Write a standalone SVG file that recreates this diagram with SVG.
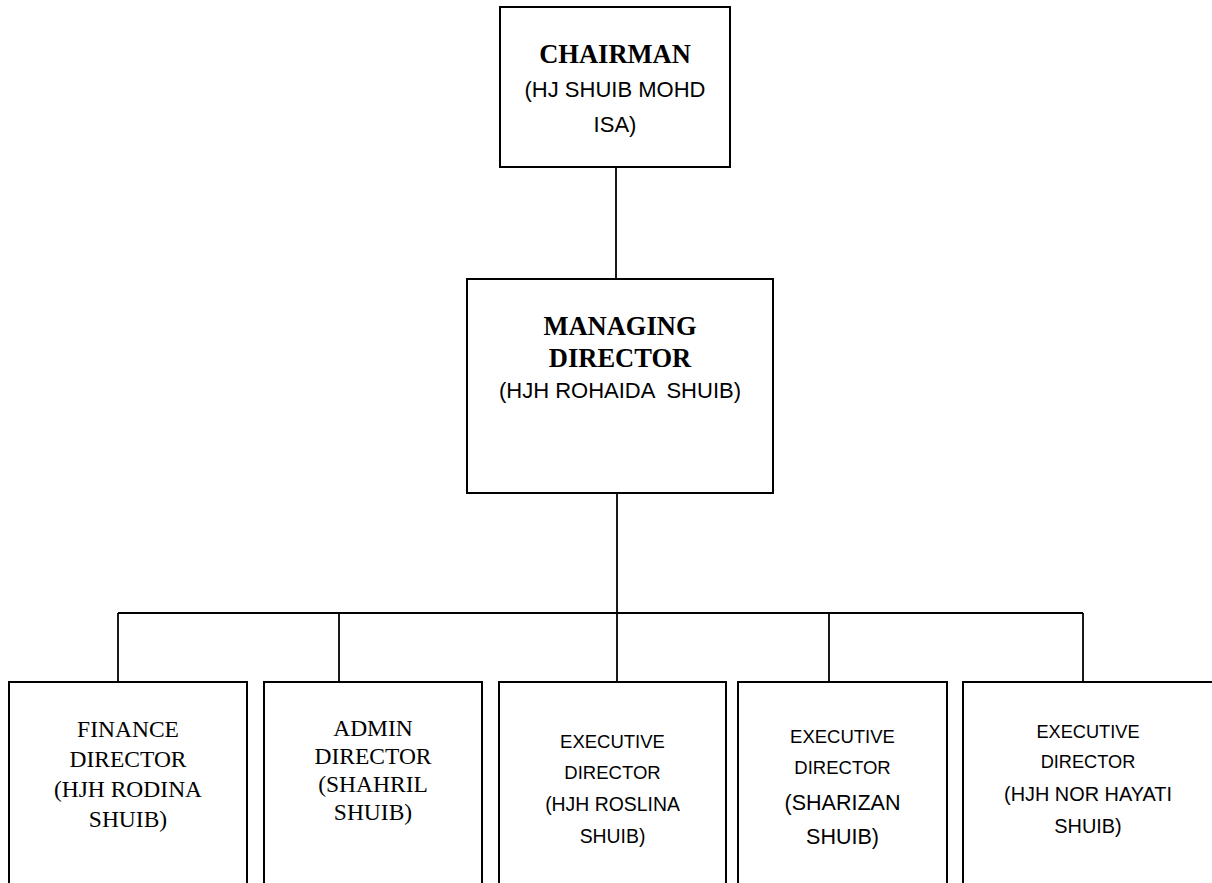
<svg xmlns="http://www.w3.org/2000/svg" width="1212" height="883" viewBox="0 0 1212 883">
  <style>
    .box { fill: #ffffff; stroke: #000000; stroke-width: 2; }
    .link { fill: none; stroke: #000000; stroke-width: 1.8; }
    .title { font-family: "Liberation Serif", "Times New Roman", serif; font-weight: bold; font-size: 26.5px; fill: #000; text-anchor: middle; }
    .sans { font-family: "Liberation Sans", Arial, sans-serif; font-size: 22px; fill: #000; text-anchor: middle; white-space: pre; }
    .roman { font-family: "Liberation Serif", "Times New Roman", serif; font-size: 23.5px; fill: #000; text-anchor: middle; }
    .small { font-family: "Liberation Sans", Arial, sans-serif; font-size: 18.5px; fill: #000; text-anchor: middle; }
  </style>
  <rect width="1212" height="883" fill="#ffffff"/>

  <!-- connectors -->
  <g id="connectors">
    <line class="link" x1="616" y1="167" x2="616" y2="279"/>
    <line class="link" x1="617" y1="493" x2="617" y2="613"/>
    <line class="link" x1="118" y1="613" x2="1083" y2="613"/>
    <line class="link" x1="118" y1="613" x2="118" y2="682"/>
    <line class="link" x1="339" y1="613" x2="339" y2="682"/>
    <line class="link" x1="617" y1="613" x2="617" y2="682"/>
    <line class="link" x1="829" y1="613" x2="829" y2="682"/>
    <line class="link" x1="1083" y1="613" x2="1083" y2="682"/>
  </g>

  <g id="chairman">
    <rect class="box" x="500" y="7" width="230" height="160"/>
    <text class="title" x="615" y="63">CHAIRMAN</text>
    <text class="sans" x="615" y="97">(HJ SHUIB MOHD</text>
    <text class="sans" x="615" y="132">ISA)</text>
  </g>

  <g id="managing-director">
    <rect class="box" x="467" y="279" width="306" height="214"/>
    <text class="title" x="620" y="335">MANAGING</text>
    <text class="title" x="620" y="367">DIRECTOR</text>
    <text class="sans" x="620" y="398">(HJH ROHAIDA  SHUIB)</text>
  </g>

  <g id="finance-director">
    <rect class="box" x="9" y="682" width="238" height="220"/>
    <text class="roman" x="128" y="737">FINANCE</text>
    <text class="roman" x="128" y="767">DIRECTOR</text>
    <text class="roman" x="128" y="797">(HJH RODINA</text>
    <text class="roman" x="128" y="827">SHUIB)</text>
  </g>

  <g id="admin-director">
    <rect class="box" x="264" y="682" width="218" height="220"/>
    <text class="roman" x="373" y="736">ADMIN</text>
    <text class="roman" x="373" y="764">DIRECTOR</text>
    <text class="roman" x="373" y="792">(SHAHRIL</text>
    <text class="roman" x="373" y="820">SHUIB)</text>
  </g>

  <g id="executive-director-1">
    <rect class="box" x="499" y="682" width="227" height="220"/>
    <text class="small" x="612.5" y="748">EXECUTIVE</text>
    <text class="small" x="612.5" y="779">DIRECTOR</text>
    <text class="small" x="612.5" y="811" style="font-size:19.4px">(HJH ROSLINA</text>
    <text class="small" x="612.5" y="843" style="font-size:19.4px">SHUIB)</text>
  </g>

  <g id="executive-director-2">
    <rect class="box" x="738" y="682" width="209" height="220"/>
    <text class="small" x="842.5" y="743">EXECUTIVE</text>
    <text class="small" x="842.5" y="774">DIRECTOR</text>
    <text class="small" x="842.5" y="810" style="font-size:21.5px">(SHARIZAN</text>
    <text class="small" x="842.5" y="844" style="font-size:21.5px">SHUIB)</text>
  </g>

  <g id="executive-director-3">
    <rect class="box" x="963" y="682" width="260" height="220"/>
    <text class="small" x="1088" y="738" style="font-size:18.2px">EXECUTIVE</text>
    <text class="small" x="1088" y="768" style="font-size:18.2px">DIRECTOR</text>
    <text class="small" x="1088" y="801" style="font-size:19.9px">(HJH NOR HAYATI</text>
    <text class="small" x="1088" y="833" style="font-size:19.9px">SHUIB)</text>
  </g>
</svg>
